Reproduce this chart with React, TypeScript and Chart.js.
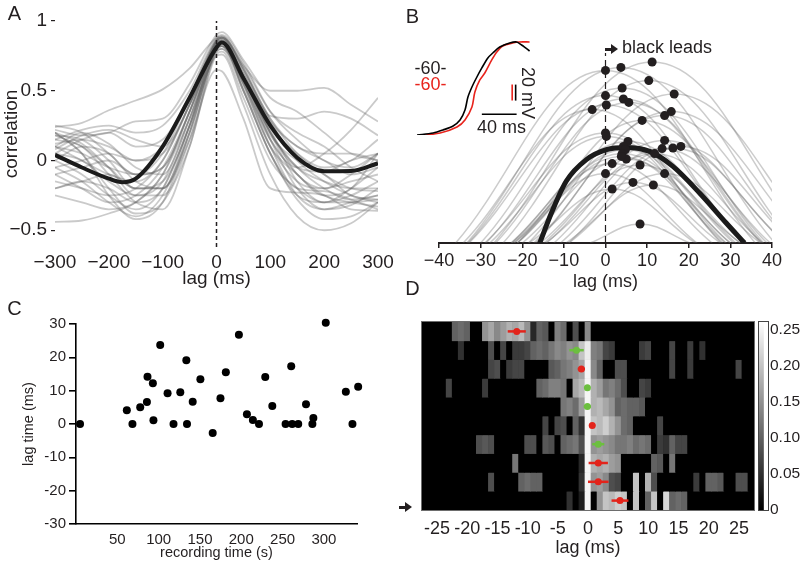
import React, { useEffect, useRef } from "react";
import { Chart, registerables } from "chart.js";
Chart.register(...registerables);

const FONT = "'Liberation Sans', Arial, Helvetica, sans-serif";
const INK = "#231f20";

// ---------- Panel A: cross-correlograms ----------
const aLags = [-300, -250, -200, -150, -100, -50, 0, 10, 50, 100, 150, 200, 250, 300];
const aGrayCurves = [
  [0.24, 0.27, 0.36, 0.43, 0.51, 0.66, 0.88, 0.89, 0.68, 0.5, 0.5, 0.52, 0.4, 0.28],
  [0.2, 0.05, -0.25, -0.42, -0.3, 0.2, 0.8, 0.82, 0.55, 0.15, -0.05, 0.05, 0.22, 0.45],
  [-0.44, -0.43, -0.38, -0.3, -0.1, 0.3, 0.78, 0.8, 0.55, 0.1, -0.25, -0.35, -0.3, -0.25],
  [0.18, 0.1, -0.05, -0.2, -0.15, 0.25, 0.85, 0.87, 0.6, 0.2, -0.15, -0.3, -0.3, -0.28],
  [0.05, 0.15, 0.2, 0.1, 0.15, 0.45, 0.84, 0.86, 0.62, 0.28, 0.1, 0.0, -0.1, -0.05],
  [0.1, 0.2, 0.12, -0.05, -0.1, 0.3, 0.82, 0.84, 0.5, 0.05, -0.28, -0.42, -0.4, -0.3],
  [-0.2, -0.15, -0.1, -0.2, -0.2, 0.15, 0.65, 0.64, 0.3, -0.2, -0.23, -0.25, -0.35, -0.36],
  [0.0, -0.1, -0.25, -0.35, -0.2, 0.25, 0.75, 0.76, 0.4, -0.1, -0.4, -0.5, -0.45, -0.3],
  [0.15, 0.22, 0.25, 0.2, 0.25, 0.5, 0.88, 0.9, 0.7, 0.35, 0.15, 0.0, -0.05, 0.05],
  [-0.05, -0.15, -0.3, -0.4, -0.25, 0.2, 0.8, 0.82, 0.58, 0.2, -0.05, -0.15, -0.2, -0.2],
  [0.25, 0.2, 0.05, -0.1, -0.05, 0.35, 0.86, 0.88, 0.65, 0.3, 0.05, -0.1, -0.2, -0.22],
  [-0.15, -0.2, -0.25, -0.2, 0.0, 0.4, 0.82, 0.84, 0.6, 0.22, -0.1, -0.2, -0.1, 0.05],
  [0.12, 0.15, 0.1, 0.0, 0.05, 0.4, 0.86, 0.88, 0.64, 0.28, 0.0, -0.15, -0.25, -0.3],
  [0.2, 0.05, -0.2, -0.38, -0.3, 0.1, 0.76, 0.78, 0.45, 0.0, -0.2, -0.3, -0.25, -0.15],
  [-0.1, -0.05, 0.0, -0.1, -0.05, 0.35, 0.83, 0.85, 0.62, 0.25, 0.05, -0.05, 0.0, 0.15],
  [0.05, 0.0, -0.15, -0.25, -0.15, 0.3, 0.84, 0.86, 0.6, 0.15, -0.2, -0.35, -0.32, -0.2],
  [0.22, 0.18, 0.2, 0.28, 0.3, 0.55, 0.9, 0.92, 0.72, 0.45, 0.35, 0.2, 0.05, 0.0],
  [-0.25, -0.3, -0.35, -0.3, -0.1, 0.35, 0.84, 0.86, 0.58, 0.15, -0.1, -0.25, -0.3, -0.33],
  [0.1, 0.05, -0.05, -0.1, 0.05, 0.45, 0.87, 0.89, 0.66, 0.3, 0.1, 0.05, 0.05, 0.0],
  [0.0, 0.1, 0.05, -0.15, -0.2, 0.2, 0.8, 0.82, 0.52, 0.1, -0.15, -0.2, -0.15, -0.1],
  [0.18, 0.15, 0.0, -0.2, -0.2, 0.25, 0.83, 0.85, 0.55, 0.1, -0.1, -0.25, -0.2, 0.05],
  [-0.05, 0.0, 0.05, 0.0, 0.1, 0.45, 0.86, 0.88, 0.68, 0.35, 0.2, 0.1, -0.05, -0.15],
  [0.15, 0.1, -0.1, -0.3, -0.35, 0.1, 0.78, 0.8, 0.5, 0.05, -0.2, -0.22, -0.28, -0.35],
  [-0.2, -0.15, -0.2, -0.3, -0.2, 0.25, 0.82, 0.84, 0.56, 0.18, 0.0, -0.1, -0.25, -0.28],
  [0.08, 0.18, 0.22, 0.15, 0.1, 0.4, 0.85, 0.87, 0.6, 0.2, -0.05, -0.08, 0.0, 0.05],
  [0.1, 0.0, -0.1, -0.15, 0.0, 0.4, 0.86, 0.88, 0.66, 0.32, 0.3, 0.35, 0.3, 0.18],
  [0.2, 0.12, -0.05, -0.25, -0.25, 0.15, 0.8, 0.82, 0.5, 0.05, -0.25, -0.3, -0.2, -0.05],
  [-0.1, -0.2, -0.3, -0.25, -0.05, 0.35, 0.83, 0.85, 0.6, 0.2, -0.05, -0.2, -0.28, -0.25],
];
const aMeanLag = [-300, -250, -200, -175, -150, -100, -50, 0, 10, 50, 100, 150, 200, 250, 300];
const aMeanVal = [0.04, -0.05, -0.13, -0.155, -0.13, 0.1, 0.45, 0.81, 0.845, 0.59, 0.25, 0.02, -0.077, -0.075, -0.02];
const aYTicks = [-0.5, 0, 0.5, 1];

// ---------- Panel B: parabolic fits of peaks ----------
const bDotLag = [11.2, 3.7, 0, 10.4, 4.0, 16.5, 0, 4.3, 5.6, 0.2, -3.2, 15.8, 14.2, 8.8, 0, 0.2, 14.2, 5.4, 18.1, 16.2, 13.6, 4.3, 4.8, 4.0, 11.8, 5.0, 3.8, 1.6, 8.3, 0, 14.2, 6.6, 11.5, 1.6, 8.3];
const bDotVal = [0.905, 0.878, 0.863, 0.812, 0.775, 0.745, 0.737, 0.72, 0.703, 0.69, 0.667, 0.657, 0.637, 0.613, 0.55, 0.533, 0.513, 0.508, 0.483, 0.475, 0.472, 0.483, 0.467, 0.447, 0.447, 0.42, 0.433, 0.397, 0.39, 0.347, 0.347, 0.303, 0.29, 0.27, 0.095];
const bHalfWidth = [38, 37, 36, 35, 34, 35, 33, 33, 32, 33, 31, 33, 31, 30, 29, 28, 29, 28, 27, 27, 26, 27, 26, 26, 26, 25, 25, 24, 24, 22, 23, 21, 21, 20, 12];
const bMeanLag = [-15.8, -13, -9.4, -4.6, 0.2, 5, 10.6, 16.2, 22.6, 29, 33.4];
const bMeanVal = [0, 0.15, 0.31, 0.417, 0.467, 0.478, 0.458, 0.383, 0.25, 0.1, 0];
const bXTicks = [-40, -30, -20, -10, 0, 10, 20, 30, 40];

// inset voltage traces (time in ms, voltage in mV above trace start)
const insetBlackT = [0, 18.6, 30, 41.5, 49.5, 55.2, 58.6, 63.2, 68.9, 74.6, 81.5, 87.2, 95.2, 106.6, 114.6, 120.3, 124.9, 129.5];
const insetBlackV = [0, 2.5, 6.3, 11.3, 18.8, 31.3, 47.5, 60, 72.5, 83.8, 96.3, 102.5, 110, 115, 116.3, 112.5, 108.8, 105];
const insetRedT = [0, 26.6, 46, 55.2, 63.2, 66.6, 72.3, 78, 86, 91.8, 98.6, 110, 118, 129.5];
const insetRedV = [-1.3, 2.5, 10, 18.8, 35, 53.8, 68.8, 77.5, 93.8, 103.8, 111.3, 115, 116.3, 116.3];
const insetTimeBar = [74.6, 114.6]; // 40 ms
const insetVoltBar = [43, 63]; // 20 mV

// ---------- Panel C: lag vs recording time ----------
const cTime = [4.9, 61.5, 68.3, 77.7, 85.8, 86.5, 93, 93.7, 101.9, 110.8, 118, 126.2, 133.5, 134.3, 141.2, 150.5, 165.4, 174.8, 181.3, 197.1, 206.8, 214, 221.4, 229, 237.5, 253.6, 260.4, 261.6, 268.9, 278.3, 287.2, 286, 302.2, 326.5, 334.5, 341.4];
const cLag = [0, 4.1, 0, 5.0, 6.6, 14.2, 12.2, 1.1, 23.7, 9.2, 0, 9.5, 19.1, 0, 6.7, 13.4, -2.7, 7.7, 15.5, 26.8, 2.9, 1.2, 0, 14.1, 5.4, 0, 17.3, 0, 0, 5.9, 1.8, 0, 30.4, 9.7, 0, 11.2];
const cXTicks = [50, 100, 150, 200, 250, 300];

// ---------- Panel D: heat map (lags -27..27 ms, values in units of 0.01) ----------
const dLags = [-27, -26, -25, -24, -23, -22, -21, -20, -19, -18, -17, -16, -15, -14, -13, -12, -11, -10, -9, -8, -7, -6, -5, -4, -3, -2, -1, 0, 1, 2, 3, 4, 5, 6, 7, 8, 9, 10, 11, 12, 13, 14, 15, 16, 17, 18, 19, 20, 21, 22, 23, 24, 25, 26, 27];
const dRow0 = [0,0,0,0,0,10,11,10,0,0,15,17,14,16,18,17,19,15,4,10,9,0,13,11,0,8,0,14,0,0,0,0,0,0,0,0,0,0,0,0,0,0,0,0,0,0,0,0,0,0,0,0,0,0,0];
const dRow1 = [0,0,0,0,0,0,5,0,0,0,0,8,0,7,0,6,6,7,10,11,10,12,14,13,15,14,20,24,13,12,7,6,0,0,0,0,6,7,0,0,0,7,0,0,6,0,5,0,0,0,0,0,0,0,0];
const dRow2 = [0,0,0,0,0,0,0,0,0,0,0,7,8,0,6,7,7,0,0,0,0,9,10,12,13,15,17,25,14,10,0,0,8,8,0,0,0,0,0,0,0,7,0,0,6,0,0,0,0,0,0,0,7,0,0];
const dRow3 = [0,0,0,0,7,0,0,0,0,0,6,0,0,0,0,0,0,0,0,10,11,13,13,12,0,17,19,25,18,16,12,13,11,8,0,0,7,6,0,0,0,0,0,0,0,0,0,0,0,0,0,0,0,0,0];
const dRow4 = [0,0,0,0,0,0,0,0,0,0,0,0,0,0,0,0,0,0,0,0,0,0,0,12,13,11,16,25,18,19,17,15,10,11,10,10,9,0,0,0,0,0,0,0,0,0,0,0,0,0,0,0,0,0,0];
const dRow5 = [0,0,0,0,0,0,0,0,0,0,0,0,0,0,0,0,0,0,0,0,7,0,7,8,0,10,5,25,20,19,21,18,15,11,10,0,0,0,0,7,0,0,0,0,0,0,0,0,0,0,0,0,0,0,0];
const dRow6 = [0,0,0,0,0,0,0,0,0,8,9,8,0,0,0,0,0,8,8,0,9,8,0,10,11,12,8,25,15,16,15,14,12,12,13,11,12,11,0,6,5,10,7,7,0,0,0,0,0,0,0,0,0,0,0];
const dRow7 = [0,0,0,0,0,0,0,0,0,0,0,0,0,0,0,12,0,0,0,0,0,0,0,0,0,0,4,25,18,17,18,16,15,0,0,0,0,0,10,9,0,12,0,0,0,0,0,0,0,0,0,0,0,0,0];
const dRow8 = [0,0,0,0,0,0,0,0,0,0,0,8,0,0,0,0,10,11,10,10,0,0,0,0,0,0,5,25,15,16,14,8,7,0,0,20,0,18,8,0,0,0,0,0,0,6,0,10,10,9,0,0,8,8,0];
const dRow9 = [0,0,0,0,0,0,0,0,0,0,0,0,0,0,0,0,0,0,0,0,0,0,0,0,5,0,3,25,0,15,20,19,21,20,0,20,0,10,20,0,22,10,11,10,0,0,0,0,0,0,0,0,0,0,0];
const dRows = [dRow0, dRow1, dRow2, dRow3, dRow4, dRow5, dRow6, dRow7, dRow8, dRow9];
const dMarkLag = [-11.8, -1.9, -1.1, -0.1, -0.1, 0.7, 1.7, 1.7, 1.7, 5.3];
const dMarkErr = [1.5, 1.2, 0.6, 0, 0.6, 0.5, 1.0, 1.6, 1.7, 1.4];
const dMarkKind = ["red", "green", "red", "green", "green", "red", "green", "red", "red", "red"];
const dXTicks = [-25, -20, -15, -10, -5, 0, 5, 10, 15, 20, 25];
const cbTicks = [0, 0.05, 0.1, 0.15, 0.2, 0.25];
const cbMax = 0.26;

// ---------- helpers ----------
const RED = "#e3241b";
const GREEN = "#6cbf3f";
const minusFmt = (v: number) => (v < 0 ? "\u2212" + String(Math.abs(v)) : String(v));
const font = (size: number) => ({ family: FONT, size });
const common = {
  responsive: false,
  animation: false as const,
  devicePixelRatio: 1,
  events: [] as any[],
  plugins: { legend: { display: false }, tooltip: { enabled: false } },
};
const grayOf = (level: number) => {
  const g = Math.round(Math.min(1, level / 100 / cbMax) * 255);
  return `rgb(${g},${g},${g})`;
};
const fixedTicks = (vals: number[]) => (s: any) => {
  s.ticks = vals.map((value) => ({ value }));
};

function ChartBox({ left, top, width, height, make }: any) {
  const ref = useRef<HTMLCanvasElement>(null);
  useEffect(() => {
    const chart = new Chart(ref.current as HTMLCanvasElement, make());
    return () => chart.destroy();
  }, []);
  return (
    <canvas
      ref={ref}
      width={width}
      height={height}
      style={{ position: "absolute", left, top, width, height, display: "block" }}
    />
  );
}

function Txt({ x, y, size, color = INK, rotate = 0, children }: any) {
  return (
    <div
      style={{
        position: "absolute",
        left: x,
        top: y,
        transform: `translate(-50%,-50%) rotate(${rotate}deg)`,
        fontFamily: FONT,
        fontSize: size,
        lineHeight: 1,
        color,
        whiteSpace: "nowrap",
      }}
    >
      {children}
    </div>
  );
}

function Arrow({ x, y }: any) {
  return (
    <>
      <div style={{ position: "absolute", left: x, top: y - 1.5, width: 7, height: 3, background: INK }} />
      <div
        style={{
          position: "absolute",
          left: x + 6,
          top: y - 5,
          width: 0,
          height: 0,
          borderTop: "5px solid transparent",
          borderBottom: "5px solid transparent",
          borderLeft: "7px solid " + INK,
        }}
      />
    </>
  );
}

// ---------- configs ----------
const makeA = () => ({
  type: "line",
  data: {
    datasets: [
      {
        data: aMeanLag.map((x, i) => ({ x, y: aMeanVal[i] })),
        borderColor: "#1b1b1b",
        borderWidth: 4,
        pointRadius: 0,
        cubicInterpolationMode: "monotone",
      },
      {
        data: [{ x: 0, y: -0.62 }, { x: 0, y: 1 }],
        borderColor: INK,
        borderWidth: 1.5,
        borderDash: [4, 3],
        pointRadius: 0,
      },
      ...aGrayCurves.map((c) => ({
        data: aLags.map((x, i) => ({ x, y: c[i] })),
        borderColor: "rgba(95,95,95,0.33)",
        borderWidth: 1.8,
        pointRadius: 0,
        cubicInterpolationMode: "monotone",
      })),
    ],
  },
  options: {
    ...common,
    layout: { padding: { left: 0, top: 21, right: 22, bottom: 0 } },
    scales: {
      x: {
        type: "linear",
        min: -300,
        max: 300,
        afterFit: (s: any) => { s.height = 43; },
        grid: { display: false, drawTicks: false },
        border: { display: false },
        ticks: { stepSize: 100, padding: 4, font: font(19), color: INK, callback: minusFmt, maxRotation: 0 },
        title: { display: true, text: "lag (ms)", font: font(19), color: INK, padding: { top: 0, bottom: 0 } },
      },
      y: {
        type: "linear",
        min: -0.62,
        max: 1,
        afterFit: (s: any) => { s.width = 55; },
        afterBuildTicks: fixedTicks(aYTicks),
        grid: { display: true, drawOnChartArea: false, drawTicks: true, tickLength: 4, color: INK, lineWidth: 1.2 },
        border: { display: false },
        ticks: { padding: 4, font: font(19), color: INK, callback: minusFmt },
        title: { display: true, text: "correlation", font: font(19), color: INK, padding: { top: 0, bottom: 0 } },
      },
    },
  },
});

const makeB = () => ({
  type: "line",
  data: {
    datasets: [
      {
        type: "scatter",
        data: bDotLag.map((x, i) => ({ x, y: bDotVal[i] })),
        backgroundColor: INK,
        borderWidth: 0,
        pointRadius: 4.5,
        clip: false,
      },
      {
        data: bMeanLag.map((x, i) => ({ x, y: bMeanVal[i] })),
        borderColor: "#1b1b1b",
        borderWidth: 5,
        pointRadius: 0,
        cubicInterpolationMode: "monotone",
      },
      {
        data: [{ x: 0, y: 0 }, { x: 0, y: 0.95 }],
        borderColor: INK,
        borderWidth: 1.2,
        borderDash: [7, 4],
        pointRadius: 0,
      },
      ...bDotLag.map((lag, i) => ({
        data: [
          { x: lag - bHalfWidth[i], y: 0 },
          { x: lag, y: bDotVal[i] },
          { x: lag + bHalfWidth[i], y: 0 },
        ],
        borderColor: "rgba(100,100,100,0.33)",
        borderWidth: 1.5,
        pointRadius: 0,
        tension: 0.4,
      })),
    ],
  },
  options: {
    ...common,
    layout: { padding: { left: 39, top: 43, right: 28, bottom: 0 } },
    scales: {
      x: {
        type: "linear",
        min: -40,
        max: 40,
        afterFit: (s: any) => { s.height = 52; },
        afterBuildTicks: fixedTicks(bXTicks),
        grid: { display: true, drawOnChartArea: false, drawTicks: true, tickLength: 5, color: INK, lineWidth: 1.5 },
        border: { display: true, color: INK, width: 2 },
        ticks: { padding: 2, font: font(18), color: INK, callback: minusFmt, maxRotation: 0 },
        title: { display: true, text: "lag (ms)", font: font(18), color: INK, padding: { top: 0, bottom: 2 } },
      },
      y: { type: "linear", min: 0, max: 1, display: false },
    },
  },
});

const makeInset = () => ({
  type: "line",
  data: {
    datasets: [
      {
        data: insetBlackT.map((x, i) => ({ x, y: insetBlackV[i] })),
        borderColor: "#000",
        borderWidth: 1.6,
        pointRadius: 0,
        tension: 0.3,
      },
      {
        data: insetRedT.map((x, i) => ({ x, y: insetRedV[i] })),
        borderColor: "#e8231c",
        borderWidth: 1.6,
        pointRadius: 0,
        tension: 0.3,
      },
      {
        data: insetTimeBar.map((x) => ({ x, y: 26 })),
        borderColor: "#000",
        borderWidth: 1.6,
        pointRadius: 0,
      },
      {
        data: insetVoltBar.map((y) => ({ x: 109.5, y })),
        borderColor: "#e8231c",
        borderWidth: 1.6,
        pointRadius: 0,
      },
      {
        data: insetVoltBar.map((y) => ({ x: 113.5, y })),
        borderColor: "#000",
        borderWidth: 1.6,
        pointRadius: 0,
      },
    ],
  },
  options: {
    ...common,
    layout: { padding: { left: 7, top: 9, right: 10, bottom: 10 } },
    scales: {
      x: { type: "linear", min: 0, max: 130, display: false },
      y: { type: "linear", min: 0, max: 120, display: false },
    },
  },
});

const makeC = () => ({
  type: "scatter",
  data: {
    datasets: [
      {
        data: cTime.map((x, i) => ({ x, y: cLag[i] })),
        backgroundColor: "#000",
        borderWidth: 0,
        pointRadius: 4,
        clip: false,
      },
    ],
  },
  options: {
    ...common,
    layout: { padding: { left: 0, top: 29, right: 43, bottom: 0 } },
    scales: {
      x: {
        type: "linear",
        min: 0,
        max: 340,
        afterFit: (s: any) => { s.height = 44; },
        afterBuildTicks: fixedTicks(cXTicks),
        grid: { display: false, drawTicks: false },
        border: { display: true, color: "#000", width: 1.6 },
        ticks: { padding: 7, font: font(15), color: INK, maxRotation: 0 },
        title: { display: true, text: "recording time (s)", font: font(14.5), color: INK, padding: { top: 0, bottom: 6 } },
      },
      y: {
        type: "linear",
        min: -30,
        max: 30,
        afterFit: (s: any) => { s.width = 76; },
        ticks: { stepSize: 10, padding: 3, font: font(15), color: INK },
        grid: { display: true, drawOnChartArea: false, drawTicks: true, tickLength: 7, color: "#000", lineWidth: 1.6 },
        border: { display: true, color: "#000", width: 1.6 },
        title: { display: true, text: "lag time (ms)", font: font(14.5), color: INK, padding: { top: 20, bottom: 0 } },
      },
    },
  },
});

const heatFrame = {
  id: "heatFrame",
  beforeDatasetsDraw(chart: any) {
    const { ctx, chartArea: a } = chart;
    ctx.save();
    ctx.fillStyle = "#000";
    ctx.fillRect(a.left, a.top, a.right - a.left, a.bottom - a.top);
    ctx.restore();
  },
  afterDatasetsDraw(chart: any) {
    const { ctx, chartArea: a } = chart;
    ctx.save();
    ctx.strokeStyle = "#6d6d6d";
    ctx.lineWidth = 1;
    ctx.strokeRect(a.left - 0.5, a.top - 0.5, a.right - a.left + 1, a.bottom - a.top + 1);
    ctx.restore();
  },
};

const makeD = () => ({
  type: "bar",
  data: {
    datasets: [
      {
        type: "scatter",
        data: dMarkLag.map((x, i) => ({ x, y: i + 0.5 })),
        backgroundColor: dMarkKind.map((k) => (k === "red" ? RED : GREEN)),
        borderWidth: 0,
        pointRadius: 3.5,
      },
      ...dMarkLag.map((lag, i) => ({
        type: "line",
        data: [
          { x: lag - dMarkErr[i], y: i + 0.5 },
          { x: lag + dMarkErr[i], y: i + 0.5 },
        ],
        borderColor: dMarkKind[i] === "red" ? RED : GREEN,
        borderWidth: 2.5,
        pointRadius: 0,
      })),
      ...dRows.map((row, i) => ({
        type: "bar",
        data: dLags.map((x) => ({ x, y: [i, i + 1] })),
        backgroundColor: row.map(grayOf),
        borderWidth: 0,
        barPercentage: 1,
        categoryPercentage: 1,
        grouped: false,
      })),
    ],
  },
  options: {
    ...common,
    layout: { padding: { left: 0, top: 27, right: 6, bottom: 0 } },
    scales: {
      x: {
        type: "linear",
        min: -27.5,
        max: 27.5,
        offset: false,
        afterFit: (s: any) => { s.height = 58; },
        afterBuildTicks: fixedTicks(dXTicks),
        grid: { display: false, drawTicks: false, offset: false },
        border: { display: false },
        ticks: { padding: 8, font: font(18), color: INK, maxRotation: 0, autoSkip: false },
        title: { display: true, text: "lag (ms)", font: font(18), color: INK, padding: { top: 0, bottom: 9 } },
      },
      y: {
        type: "linear",
        min: 0,
        max: 10,
        reverse: true,
        afterFit: (s: any) => { s.width = 42; },
        grid: { display: false, drawTicks: false },
        border: { display: false },
        ticks: { display: false },
      },
    },
  },
  plugins: [heatFrame],
});

const cbFrame = {
  id: "cbFrame",
  afterDatasetsDraw(chart: any) {
    const { ctx, chartArea: a } = chart;
    ctx.save();
    ctx.strokeStyle = "#444";
    ctx.lineWidth = 1;
    ctx.strokeRect(a.left - 0.5, a.top - 0.5, a.right - a.left + 1, a.bottom - a.top + 1);
    ctx.restore();
  },
};

const makeCB = () => ({
  type: "bar",
  data: {
    labels: ["scale"],
    datasets: [
      {
        data: [[0, cbMax]],
        backgroundColor: (c: any) => {
          const a = c.chart.chartArea;
          if (!a) return "#888";
          const g = c.chart.ctx.createLinearGradient(0, a.bottom, 0, a.top);
          g.addColorStop(0, "#000");
          g.addColorStop(1, "#fff");
          return g;
        },
        borderWidth: 0,
        barPercentage: 1,
        categoryPercentage: 1,
      },
    ],
  },
  options: {
    ...common,
    layout: { padding: { left: 9, top: 27, right: 0, bottom: 58 } },
    scales: {
      x: { display: false, offset: false },
      y: {
        position: "right",
        min: 0,
        max: cbMax,
        afterFit: (s: any) => { s.width = 32; },
        afterBuildTicks: fixedTicks(cbTicks),
        grid: { display: false, drawTicks: false },
        border: { display: false },
        ticks: { padding: 2, font: font(15.5), color: INK },
      },
    },
  },
  plugins: [cbFrame],
});

export default function App() {
  return (
    <div style={{ position: "absolute", left: 0, top: 0, width: 800, height: 568, background: "#fff", overflow: "hidden" }}>
      <ChartBox left={0} top={0} width={400} height={290} make={makeA} />
      <ChartBox left={400} top={0} width={400} height={295} make={makeB} />
      <ChartBox left={410} top={30} width={130} height={115} make={makeInset} />
      <ChartBox left={0} top={295} width={400} height={273} make={makeC} />
      <ChartBox left={380} top={295} width={380} height={273} make={makeD} />
      <ChartBox left={750} top={295} width={50} height={273} make={makeCB} />

      <Txt x={14.5} y={12.5} size={20}>A</Txt>
      <Txt x={412.5} y={15.5} size={20}>B</Txt>
      <Txt x={14.5} y={307.5} size={20}>C</Txt>
      <Txt x={412.5} y={288} size={20}>D</Txt>

      <Txt x={430.5} y={67.5} size={18}>-60-</Txt>
      <Txt x={430.5} y={84} size={18} color="#e8231c">-60-</Txt>
      <Txt x={501.5} y={126.5} size={18}>40 ms</Txt>
      <Txt x={528} y={93} size={18} rotate={90}>20 mV</Txt>

      <Arrow x={605} y={49} />
      <div style={{ position: "absolute", left: 622, top: 48, transform: "translateY(-55%)", fontFamily: FONT, fontSize: 18, lineHeight: 1, color: INK, whiteSpace: "nowrap" }}>
        black leads
      </div>

      <Arrow x={399} y={507} />
    </div>
  );
}
